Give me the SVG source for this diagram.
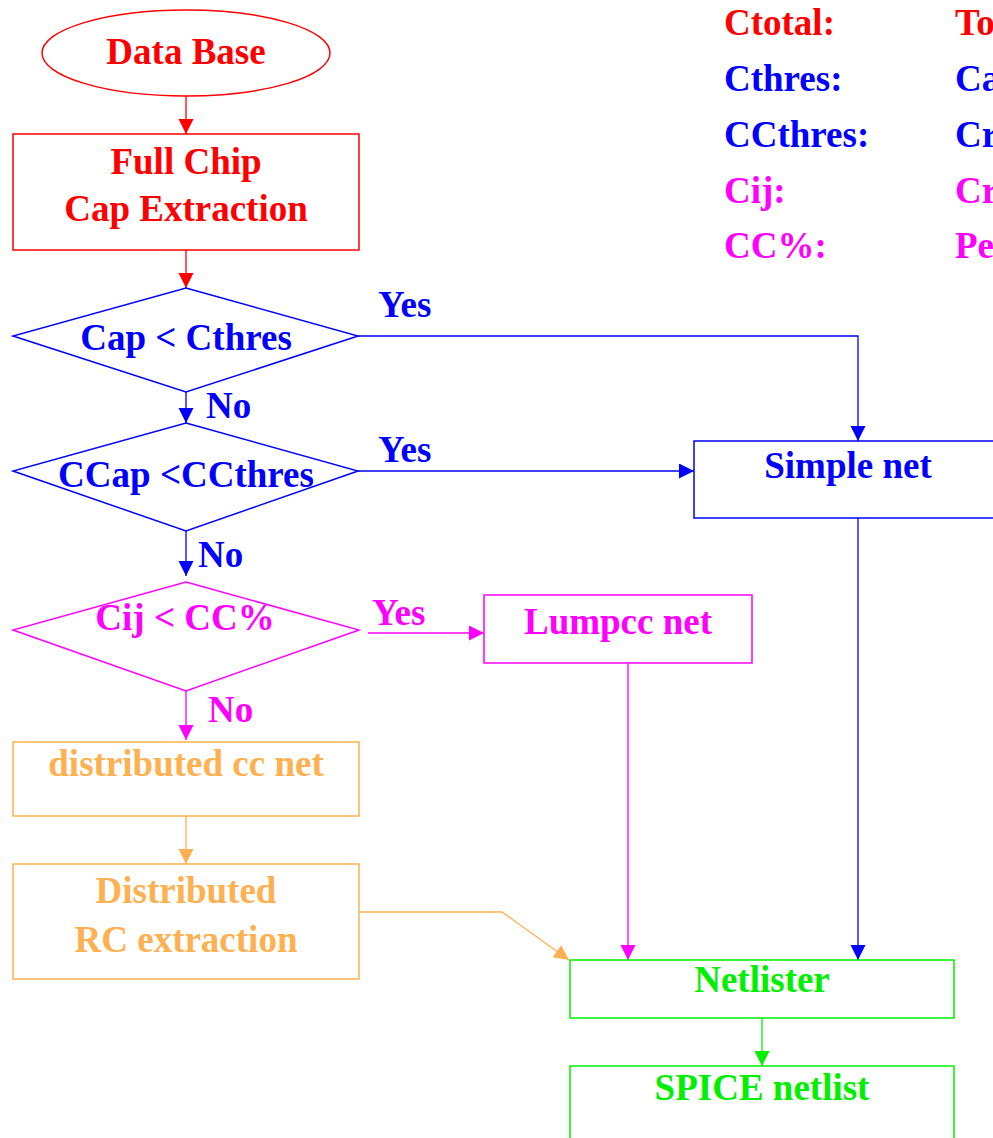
<svg xmlns="http://www.w3.org/2000/svg" width="993" height="1138" viewBox="0 0 993 1138">
<style>
text{font-family:"Liberation Serif","Times New Roman",serif;font-weight:bold;font-size:37px}
.c{text-anchor:middle}
.red{fill:#ff0000}.blue{fill:#0000ff}.mag{fill:#ff00ff}.org{fill:#ffb050}.grn{fill:#00f000}
.sh{fill:none;stroke-width:1.5}
.ln{fill:none;stroke-width:1.3}
</style>
<defs>
<marker id="aR" markerUnits="userSpaceOnUse" markerWidth="18" markerHeight="16" refX="15" refY="7.5" orient="auto"><path d="M0,0L15,7.5L0,15z" fill="#ff0000"/></marker>
<marker id="aB" markerUnits="userSpaceOnUse" markerWidth="18" markerHeight="16" refX="15" refY="7.5" orient="auto"><path d="M0,0L15,7.5L0,15z" fill="#0000ff"/></marker>
<marker id="aM" markerUnits="userSpaceOnUse" markerWidth="18" markerHeight="16" refX="15" refY="7.5" orient="auto"><path d="M0,0L15,7.5L0,15z" fill="#ff00ff"/></marker>
<marker id="aO" markerUnits="userSpaceOnUse" markerWidth="18" markerHeight="16" refX="15" refY="7.5" orient="auto"><path d="M0,0L15,7.5L0,15z" fill="#ffb050"/></marker>
<marker id="aG" markerUnits="userSpaceOnUse" markerWidth="18" markerHeight="16" refX="15" refY="7.5" orient="auto"><path d="M0,0L15,7.5L0,15z" fill="#00f000"/></marker>
</defs>

<g id="legend">
<text x="724" y="35" class="red">Ctotal:</text><text x="955" y="35" class="red">To</text>
<text x="724" y="91" class="blue">Cthres:</text><text x="955" y="91" class="blue">Ca</text>
<text x="724" y="147" class="blue">CCthres:</text><text x="955" y="147" class="blue">Cr</text>
<text x="724" y="203" class="mag">Cij:</text><text x="955" y="203" class="mag">Cr</text>
<text x="724" y="258" class="mag">CC%:</text><text x="955" y="258" class="mag">Pe</text>
</g>

<g id="connectors">
<line x1="186" y1="96" x2="186" y2="134" stroke="#ff0000" class="ln" marker-end="url(#aR)"/>
<line x1="186" y1="250" x2="186" y2="288" stroke="#ff0000" class="ln" marker-end="url(#aR)"/>
<polyline points="358,336 858,336 858,441" stroke="#0000ff" class="ln" marker-end="url(#aB)"/>
<line x1="186" y1="392" x2="186" y2="423" stroke="#0000ff" class="ln" marker-end="url(#aB)"/>
<line x1="358" y1="471" x2="694" y2="471" stroke="#0000ff" class="ln" marker-end="url(#aB)"/>
<line x1="186" y1="531" x2="186" y2="576" stroke="#0000ff" class="ln" marker-end="url(#aB)"/>
<line x1="858" y1="518" x2="858" y2="960" stroke="#0000ff" class="ln" marker-end="url(#aB)"/>
<line x1="368" y1="633" x2="484" y2="633" stroke="#ff00ff" class="ln" marker-end="url(#aM)"/>
<line x1="186" y1="691" x2="186" y2="740" stroke="#ff00ff" class="ln" marker-end="url(#aM)"/>
<line x1="628" y1="663" x2="628" y2="960" stroke="#ff00ff" class="ln" marker-end="url(#aM)"/>
<line x1="186" y1="816" x2="186" y2="864" stroke="#ffb050" class="ln" marker-end="url(#aO)"/>
<polyline points="359,912 502,912 569,960" stroke="#ffb050" class="ln" marker-end="url(#aO)"/>
<line x1="762" y1="1018" x2="762" y2="1066" stroke="#00f000" class="ln" marker-end="url(#aG)"/>
<text x="378" y="317" class="blue">Yes</text>
<text x="206" y="418" class="blue">No</text>
<text x="378" y="462" class="blue">Yes</text>
<text x="198" y="567" class="blue">No</text>
<text x="372" y="625" class="mag">Yes</text>
<text x="208" y="722" class="mag">No</text>
</g>

<g id="database">
<ellipse cx="186" cy="53" rx="144" ry="43" stroke="#ff0000" class="sh"/>
<text x="186" y="64" class="c red">Data Base</text>
</g>
<g id="fullchip">
<rect x="13" y="134" width="346" height="116" stroke="#ff0000" class="sh"/>
<text x="186" y="174" class="c red">Full Chip</text>
<text x="186" y="221" class="c red">Cap Extraction</text>
</g>
<g id="dec1">
<polygon points="186,288 358,336 186,392 13,336" stroke="#0000ff" class="sh"/>
<text x="186" y="350" class="c blue">Cap &lt; Cthres</text>
</g>
<g id="dec2">
<polygon points="186,423 358,471 186,531 13,471" stroke="#0000ff" class="sh"/>
<text x="186" y="487" class="c blue">CCap &lt;CCthres</text>
</g>
<g id="simplenet">
<rect x="694" y="441" width="310" height="77" stroke="#0000ff" class="sh"/>
<text x="848" y="478" class="c blue">Simple net</text>
</g>
<g id="dec3">
<polygon points="186,582 359,630 186,691 13,630" stroke="#ff00ff" class="sh"/>
<text x="185" y="630" class="c mag">Cij &lt; CC%</text>
</g>
<g id="lumpcc">
<rect x="484" y="595" width="268" height="68" stroke="#ff00ff" class="sh"/>
<text x="618" y="634" class="c mag">Lumpcc net</text>
</g>
<g id="distcc">
<rect x="13" y="742" width="346" height="74" stroke="#ffb050" class="sh"/>
<text x="186" y="776" class="c org">distributed cc net</text>
</g>
<g id="distrc">
<rect x="13" y="864" width="346" height="115" stroke="#ffb050" class="sh"/>
<text x="186" y="903" class="c org">Distributed</text>
<text x="186" y="952" class="c org">RC extraction</text>
</g>
<g id="netlister">
<rect x="570" y="960" width="384" height="58" stroke="#00f000" class="sh"/>
<text x="762" y="992" class="c grn">Netlister</text>
</g>
<g id="spice">
<rect x="570" y="1066" width="384" height="90" stroke="#00f000" class="sh"/>
<text x="762" y="1100" class="c grn">SPICE netlist</text>
</g>
</svg>
